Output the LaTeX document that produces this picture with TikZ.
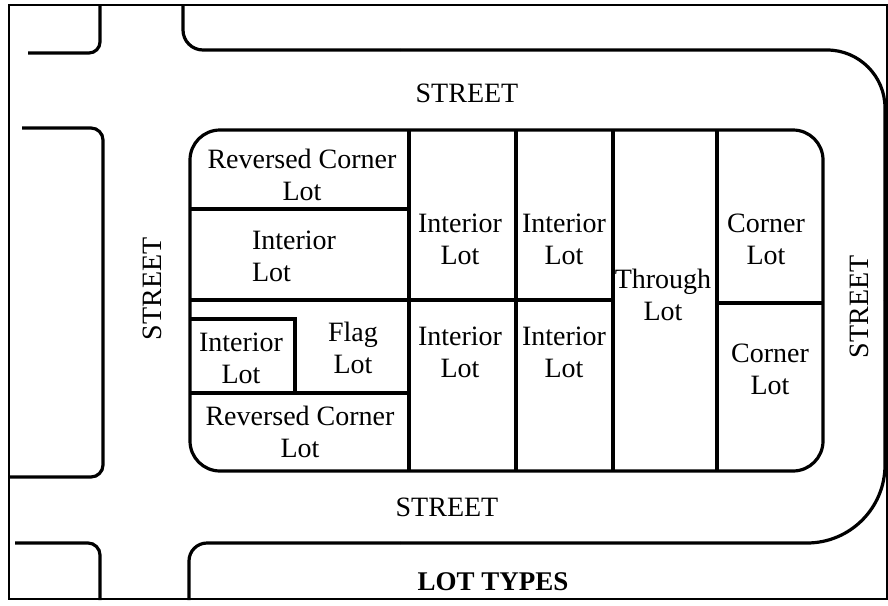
\documentclass[tikz,border=0pt]{standalone}
\usepackage{fontspec}
\setmainfont{Liberation Serif}
\begin{document}
\begin{tikzpicture}[x=1pt,y=-1pt,
  road/.style={line width=3.2pt},
  lot/.style={line width=3.2pt},
  lbl/.style={font=\fontsize{28}{32}\selectfont, align=center, inner sep=0pt},
  lbll/.style={font=\fontsize{28}{32}\selectfont, align=left, inner sep=0pt},
  street/.style={font=\fontsize{28}{32}\selectfont, inner sep=0pt},
  titlelbl/.style={font=\fontsize{27}{32}\selectfont\bfseries, inner sep=0pt}]
\useasboundingbox (0,0) rectangle (888,605);
\fill[white] (0,0) rectangle (888,605);
% frame
\draw[line width=1.2pt] (9,5) rectangle (887,599);
% road edges
\draw[road, rounded corners=11pt] (28,53) -- (100,53) -- (100,4);
\draw[road, rounded corners=20pt] (183,4) -- (183,50) -- (400,50);
\draw[road, rounded corners=58pt] (400,50) -- (885,50) -- (885,300);
\draw[road, rounded corners=78pt] (885,300) -- (885,543) -- (400,543);
\draw[road, rounded corners=18pt] (400,543) -- (189,543) -- (189,600);
\draw[road, rounded corners=12pt] (22,128) -- (103,128) -- (103,477) -- (10,477);
\draw[road, rounded corners=12pt] (15,543) -- (100,543) -- (100,600);
% block
\draw[lot, rounded corners=30pt] (190,130) rectangle (823,471);
\draw[lot] (409,130) -- (409,471);
\draw[lot] (516,130) -- (516,471);
\draw[lot] (613,130) -- (613,471);
\draw[lot] (717,130) -- (717,471);
\draw[lot] (190,209) -- (409,209);
\draw[lot] (190,300) -- (613,300);
\draw[lot] (717,303) -- (823,303);
\draw[lot] (190,393) -- (409,393);
\draw[lot] (190,319) -- (295,319) -- (295,393);
% labels
\node[lbl] (rc1) at (302,175) {Reversed Corner\\Lot};
\node[lbll] (il1) at (294,256) {Interior\\Lot};
\node[lbl] (il2) at (241,358) {Interior\\Lot};
\node[lbl] (fl) at (353,348) {Flag\\Lot};
\node[lbl] (rc2) at (300,432) {Reversed Corner\\Lot};
\node[lbl] (ia) at (460,239) {Interior\\Lot};
\node[lbl] (ib) at (564,239) {Interior\\Lot};
\node[lbl] (ic) at (460,352) {Interior\\Lot};
\node[lbl] (id) at (564,352) {Interior\\Lot};
\node[lbl] (tl) at (663,295) {Through\\Lot};
\node[lbl] (cl1) at (766,239) {Corner\\Lot};
\node[lbl] (cl2) at (770,369) {Corner\\Lot};
\node[street] (sTop) at (467,93) {STREET};
\node[street] (sBot) at (447,507) {STREET};
\node[street, rotate=90] (sLeft) at (152,289) {STREET};
\node[street, rotate=90] (sRight) at (859,307) {STREET};
\node[titlelbl] (title) at (493,582) {LOT TYPES};
\end{tikzpicture}
\end{document}
